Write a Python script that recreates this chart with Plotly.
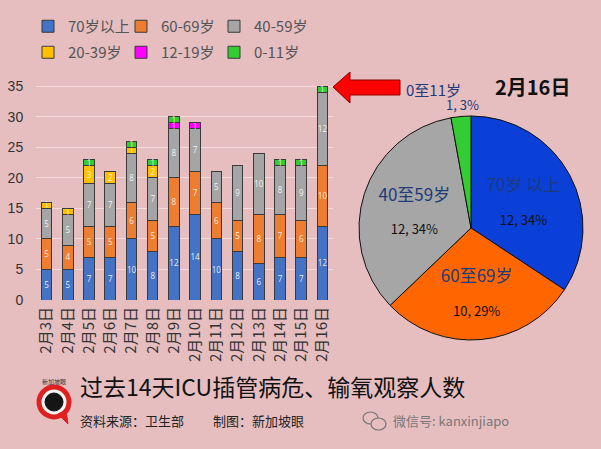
import plotly.graph_objects as go

W, H = 601, 449

dates = ["2月3日", "2月4日", "2月5日", "2月6日", "2月7日", "2月8日", "2月9日",
         "2月10日", "2月11日", "2月12日", "2月13日", "2月14日", "2月15日", "2月16日"]
age_70 = [5, 5, 7, 7, 10, 8, 12, 14, 10, 8, 6, 7, 7, 12]
age_60 = [5, 4, 5, 5, 6, 5, 8, 7, 6, 5, 8, 7, 6, 10]
age_40 = [5, 5, 7, 7, 8, 7, 8, 7, 5, 9, 10, 8, 9, 12]
age_20 = [1, 1, 3, 2, 1, 2, 0, 0, 0, 0, 0, 0, 0, 0]
age_12 = [0, 0, 0, 0, 0, 0, 1, 1, 0, 0, 0, 0, 0, 0]
age_0 = [0, 0, 1, 0, 1, 1, 1, 0, 0, 0, 0, 1, 1, 1]

series_names = ["70岁以上", "60-69岁", "40-59岁", "20-39岁", "12-19岁", "0-11岁"]
series_vals = [age_70, age_60, age_40, age_20, age_12, age_0]
series_colors = ["#4472c4", "#ed7d31", "#a5a5a5", "#ffc000", "#ff00ff", "#33cc33"]

pie_labels = ["70岁 以上", "60至69岁", "40至59岁", "0至11岁"]
pie_values = [12, 10, 12, 1]
pie_pcts = ["34%", "29%", "34%", "3%"]
pie_colors = ["#0a40d8", "#ff6600", "#a6a6a6", "#33cc33"]

BG = "#e6bec0"


def px(x):
    return x / W


def py(y):
    return 1 - y / H


fig = go.Figure()

for i, (name, vals, col) in enumerate(zip(series_names, series_vals, series_colors)):
    fig.add_trace(go.Bar(
        x=dates, y=vals, name=name,
        marker=dict(color=col, line=dict(color="#3a3a3a", width=1)),
        text=[str(v) if v else "" for v in vals],
        textposition="inside", insidetextanchor="middle", textangle=0,
        textfont=dict(size=9, color="rgba(255,255,255,0.9)", family="Open Sans"),
        legend="legend" if i < 3 else "legend2",
        cliponaxis=False,
    ))

pie_text = []
for lab, v, p in zip(pie_labels, pie_values, pie_pcts):
    if v > 1:
        pie_text.append(
            f"<span style='font-size:17px;color:#1f3a78'>{lab}</span><br> <br>{v}, {p}")
    else:
        pie_text.append("")

fig.add_trace(go.Pie(
    labels=pie_labels, values=pie_values, text=pie_text,
    textinfo="text", sort=False, direction="clockwise", rotation=0,
    marker=dict(colors=pie_colors, line=dict(color="#111111", width=1)),
    textposition="inside",
    insidetextorientation="horizontal",
    textfont=dict(size=13, color="#111111", family="Noto Sans CJK SC"),
    domain=dict(x=[px(357), px(585)], y=[py(340), py(116)]),
    showlegend=False, hoverinfo="skip", automargin=False,
))

legend_common = dict(orientation="h", xanchor="left", yanchor="top",
                     entrywidth=48, bgcolor="rgba(0,0,0,0)", traceorder="normal",
                     itemwidth=30,
                     font=dict(size=15, color="#555555", family="Noto Sans CJK SC"))

fig.update_layout(
    width=W, height=H,
    margin=dict(l=0, r=0, t=0, b=0, autoexpand=False),
    paper_bgcolor=BG, plot_bgcolor="rgba(0,0,0,0)",
    barmode="stack", bargap=0.5,
    font=dict(family="Noto Sans CJK SC", color="#333333"),
    uniformtext=dict(minsize=8, mode="show"),
    xaxis=dict(domain=[px(36), px(333)], tickangle=-90, showgrid=False,
               showline=False, ticks="", ticklabelstandoff=3, automargin=False,
               tickfont=dict(size=15, color="#333333", family="Noto Sans CJK SC")),
    yaxis=dict(domain=[py(300), py(80)], range=[0, 36], dtick=5, automargin=False,
               showgrid=True, gridcolor="rgba(255,255,255,0.45)", gridwidth=1,
               zeroline=False, ticks="outside", ticklen=9, tickcolor="rgba(0,0,0,0)",
               tickfont=dict(size=14, color="#333333", family="Liberation Sans")),
    legend=dict(x=px(28), y=py(10), **legend_common),
    legend2=dict(x=px(28), y=py(36), **legend_common),
)

shapes = []
# red block arrow pointing to the last bar
ax = [333, 350, 350, 400, 400, 350, 350]
ay = [87, 72, 80, 80, 95, 95, 103]
path = "M " + " L ".join(f"{px(a)},{py(b)}" for a, b in zip(ax, ay)) + " Z"
shapes.append(dict(type="path", path=path, xref="paper", yref="paper",
                   fillcolor="#ff0000", line=dict(color="#8b0000", width=1)))

# logo
shapes.append(dict(type="circle", xref="paper", yref="paper",
                   x0=px(39), x1=px(69), y0=py(417), y1=py(387),
                   fillcolor="#f4f4f4", line=dict(color="#e02020", width=5)))
shapes.append(dict(type="path", xref="paper", yref="paper",
                   path=f"M {px(58)},{py(414)} L {px(68)},{py(424)} L {px(66)},{py(410)} Z",
                   fillcolor="#e02020", line=dict(color="#e02020", width=1)))
shapes.append(dict(type="circle", xref="paper", yref="paper",
                   x0=px(45), x1=px(63), y0=py(411), y1=py(393),
                   fillcolor="#151515", line=dict(color="#151515", width=1)))
# wechat icon
shapes.append(dict(type="circle", xref="paper", yref="paper",
                   x0=px(363), x1=px(378), y0=py(424), y1=py(412),
                   fillcolor="rgba(0,0,0,0)", line=dict(color="#777777", width=1.2)))
shapes.append(dict(type="circle", xref="paper", yref="paper",
                   x0=px(371), x1=px(386), y0=py(430), y1=py(418),
                   fillcolor=BG, line=dict(color="#777777", width=1.2)))
fig.update_layout(shapes=shapes)

ann = [
    dict(text="<b>2月16日</b>", x=px(532), y=py(86), font=dict(size=20, color="#111111",
         family="Noto Sans CJK SC"), xanchor="center", yanchor="middle"),
    dict(text=pie_labels[3].replace(" ", ""), x=px(433), y=py(89),
         font=dict(size=15, color="#1f3a78", family="Noto Sans CJK SC"),
         xanchor="center", yanchor="middle"),
    dict(text=f"{pie_values[3]}, {pie_pcts[3]}", x=px(462), y=py(104),
         font=dict(size=13, color="#1f3a78", family="Noto Sans CJK SC"),
         xanchor="center", yanchor="middle"),
    dict(text="过去14天ICU插管病危、输氧观察人数", x=px(78), y=py(386),
         font=dict(size=23, color="#111111", family="Noto Sans CJK SC"),
         xanchor="left", yanchor="middle"),
    dict(text="资料来源：卫生部", x=px(78), y=py(420),
         font=dict(size=13, color="#222222", family="Noto Sans CJK SC"),
         xanchor="left", yanchor="middle"),
    dict(text="制图：新加坡眼", x=px(211), y=py(420),
         font=dict(size=13, color="#222222", family="Noto Sans CJK SC"),
         xanchor="left", yanchor="middle"),
    dict(text="微信号: kanxinjiapo", x=px(391), y=py(420),
         font=dict(size=13, color="#777777", family="Noto Sans CJK SC"),
         xanchor="left", yanchor="middle"),
    dict(text="新加坡眼", x=px(54), y=py(381),
         font=dict(size=6, color="#333333", family="Noto Sans CJK SC"),
         xanchor="center", yanchor="middle"),
]
for a in ann:
    a.update(xref="paper", yref="paper", showarrow=False)
fig.update_layout(annotations=ann)

fig.write_html("out.html", config={"displayModeBar": False},
               post_script="document.body.style.margin='0';document.body.style.overflow='hidden';")
